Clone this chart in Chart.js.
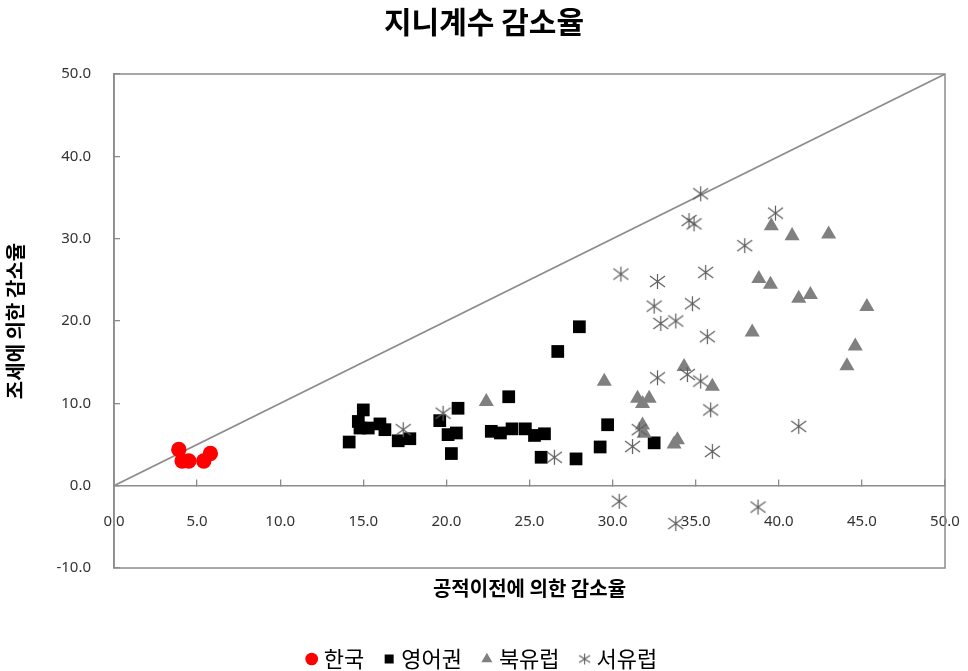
<!DOCTYPE html>
<html>
<head>
<meta charset="utf-8">
<script src="https://cdn.jsdelivr.net/npm/chart.js@4.4.1/dist/chart.umd.min.js"></script>
<style>
  html, body { margin: 0; padding: 0; background: #fff; }
  #wrap { width: 968px; height: 671px; }
</style>
</head>
<body>
<div id="wrap"><canvas id="c" width="968" height="671"></canvas></div>
<script>
// 지니계수 감소율: 공적이전(x) 대 조세(y)에 의한 감소율, 국가군별
const chartTitle = '지니계수 감소율';
const xTitle = '공적이전에 의한 감소율';
const yTitle = '조세에 의한 감소율';
const seriesNames = ['한국', '영어권', '북유럽', '서유럽'];

const xTicks = [0, 5, 10, 15, 20, 25, 30, 35, 40, 45, 50];
const yTicks = [-10, 0, 10, 20, 30, 40, 50];

const koreaX = [3.9, 4.1, 4.5, 5.4, 5.8];
const koreaY = [4.4, 3.0, 3.0, 3.0, 3.9];

const englishX = [14.15, 14.7, 15.0, 14.8, 15.3, 16.0, 16.3, 17.1, 17.8, 19.6, 20.7, 20.1, 20.6, 20.3,
                  22.7, 23.25, 23.95, 23.75, 24.75, 25.3, 25.9, 25.7, 26.7, 28.0, 27.8, 29.25, 29.7, 32.5];
const englishY = [5.3, 7.8, 9.2, 7.0, 7.0, 7.5, 6.8, 5.45, 5.7, 7.9, 9.4, 6.2, 6.4, 3.9,
                  6.6, 6.4, 6.9, 10.8, 6.9, 6.1, 6.3, 3.45, 16.3, 19.3, 3.25, 4.7, 7.4, 5.2];

const nordicX = [22.4, 29.5, 31.5, 31.8, 32.2, 31.8, 31.9, 33.7, 33.9, 34.3, 36.0,
                 39.55, 40.8, 43.0, 38.8, 39.5, 41.2, 41.9, 45.3, 38.4, 44.6, 44.1];
const nordicY = [10.2, 12.65, 10.6, 9.95, 10.6, 7.35, 6.35, 5.05, 5.55, 14.45, 12.05,
                 31.55, 30.35, 30.55, 25.15, 24.45, 22.75, 23.2, 21.75, 18.65, 16.95, 14.55];

const westX = [17.4, 19.8, 26.5, 30.4, 30.5, 31.2, 31.6, 32.5, 32.7, 32.7, 32.9, 33.8, 33.8, 34.5,
               34.6, 34.8, 34.9, 35.3, 35.3, 35.6, 35.7, 35.9, 36.0, 37.95, 38.75, 39.8, 41.2];
const westY = [6.8, 8.8, 3.45, -1.9, 25.7, 4.75, 6.8, 21.8, 24.8, 13.1, 19.7, 20.0, -4.6, 13.5,
               32.2, 22.1, 31.8, 35.45, 12.7, 25.9, 18.1, 9.2, 4.15, 29.15, -2.6, 33.1, 7.2];

// 45도 기준선 (x = y)
const refLineX = [0, 50];
const refLineY = [0, 50];

const toPoints = (xs, ys) => xs.map((x, i) => ({ x: x, y: ys[i] }));

// 서유럽 표식: 세로선 + X 모양의 별표
function makeAsterisk(size, color, lw) {
  const cv = document.createElement('canvas');
  cv.width = size; cv.height = size;
  const g = cv.getContext('2d');
  g.strokeStyle = color;
  g.lineWidth = lw;
  const m = size / 2, p = 1;
  g.beginPath();
  g.moveTo(m, p); g.lineTo(m, size - p);
  g.moveTo(p, p + 2); g.lineTo(size - p, size - p - 2);
  g.moveTo(size - p, p + 2); g.lineTo(p, size - p - 2);
  g.stroke();
  return cv;
}
const starBig = makeAsterisk(17, '#5e5e5e', 1.2);
const starSmall = makeAsterisk(13, '#5e5e5e', 1.1);

// 플롯 영역 테두리
const frame = {
  id: 'frame',
  beforeDatasetsDraw(chart) {
    const a = chart.chartArea, ctx = chart.ctx;
    ctx.save();
    ctx.strokeStyle = '#8c8c8c';
    ctx.lineWidth = 1.5;
    ctx.strokeRect(a.left, a.top, a.right - a.left, a.bottom - a.top);
    ctx.restore();
  }
};

const tickFont = { family: '"Noto Sans", sans-serif', size: 15 };
const krFont = '"Noto Sans CJK KR", sans-serif';

new Chart(document.getElementById('c'), {
  type: 'scatter',
  data: {
    datasets: [
      { label: seriesNames[0], data: toPoints(koreaX, koreaY), pointStyle: 'circle', pointRadius: 7.7,
        backgroundColor: '#ff0000', borderColor: '#ff0000', borderWidth: 0, order: 3 },
      { label: seriesNames[1], data: toPoints(englishX, englishY), pointStyle: 'rect', pointRadius: 9,
        backgroundColor: '#000000', borderColor: '#000000', borderWidth: 0, order: 2 },
      { label: seriesNames[2], data: toPoints(nordicX, nordicY), pointStyle: 'triangle', pointRadius: 8.7,
        backgroundColor: '#808080', borderColor: '#808080', borderWidth: 0, order: 1 },
      { label: seriesNames[3], data: toPoints(westX, westY), pointStyle: starBig, pointRadius: 8,
        backgroundColor: '#5e5e5e', borderColor: '#5e5e5e', order: 0 },
      { label: 'x=y', data: toPoints(refLineX, refLineY), showLine: true, pointRadius: 0,
        borderColor: '#8c8c8c', borderWidth: 1.6, fill: false, order: 9 }
    ]
  },
  options: {
    responsive: false,
    animation: false,
    devicePixelRatio: 1,
    layout: { padding: { top: 0, right: 0, bottom: -9, left: 0 } },
    plugins: {
      tooltip: { enabled: false },
      title: {
        display: true, text: chartTitle, color: '#000',
        font: { family: krFont, size: 30, weight: 'bold' },
        padding: { top: 4, bottom: 34 }
      },
      legend: {
        position: 'bottom',
        title: { display: true, text: '', font: { size: 10 }, padding: { top: 44, bottom: 0 } },
        labels: {
          usePointStyle: true,
          boxWidth: 2, boxHeight: 9,
          padding: 24,
          color: '#000',
          font: { family: krFont, size: 22 },
          filter: (item) => item.datasetIndex < 4,
          sort: (a, b) => a.datasetIndex - b.datasetIndex,
          generateLabels(chart) {
            const items = Chart.defaults.plugins.legend.labels.generateLabels(chart);
            items.forEach(it => { if (it.datasetIndex === 3) it.pointStyle = starSmall; });
            return items;
          }
        }
      }
    },
    scales: {
      x: {
        type: 'linear',
        position: { y: 0 },
        min: 0, max: 50,
        afterBuildTicks: (s) => { s.ticks = xTicks.map(v => ({ value: v })); },
        afterFit: (s) => { s.paddingLeft = 0; s.paddingRight = 0; },
        ticks: { font: tickFont, color: '#333', padding: 34, maxRotation: 0,
                 callback: (v) => Number(v).toFixed(1) },
        grid: { drawOnChartArea: false, drawTicks: true, tickLength: -7, color: '#8c8c8c', lineWidth: 1.3 },
        border: { display: true, color: '#8c8c8c', width: 1.6 },
        title: { display: true, text: xTitle, color: '#000',
                 font: { family: krFont, size: 20, weight: 'bold' }, padding: { top: 12, bottom: 0 } }
      },
      y: {
        type: 'linear',
        position: 'left',
        min: -10, max: 50,
        afterBuildTicks: (s) => { s.ticks = yTicks.map(v => ({ value: v })); },
        afterFit: (s) => { s.width = 114; },
        ticks: { font: tickFont, color: '#333', padding: 29,
                 callback: (v) => Number(v).toFixed(1) },
        grid: { drawOnChartArea: false, drawTicks: true, tickLength: -6, color: '#8c8c8c', lineWidth: 1.3 },
        border: { display: true, color: '#8c8c8c', width: 1.6 },
        title: { display: true, text: yTitle, color: '#000',
                 font: { family: krFont, size: 20, weight: 'bold' }, padding: { top: 3, bottom: 0 } }
      },
      // 오른쪽 여백용 빈 축 (눈금·선 없음)
      yRight: {
        type: 'linear',
        position: 'right',
        min: -10, max: 50,
        afterFit: (s) => { s.width = 23; s.paddingTop = 0; s.paddingBottom = 0; },
        ticks: { display: false },
        grid: { display: false, drawTicks: false },
        border: { display: false }
      }
    }
  },
  plugins: [frame]
});
</script>
</body>
</html>
